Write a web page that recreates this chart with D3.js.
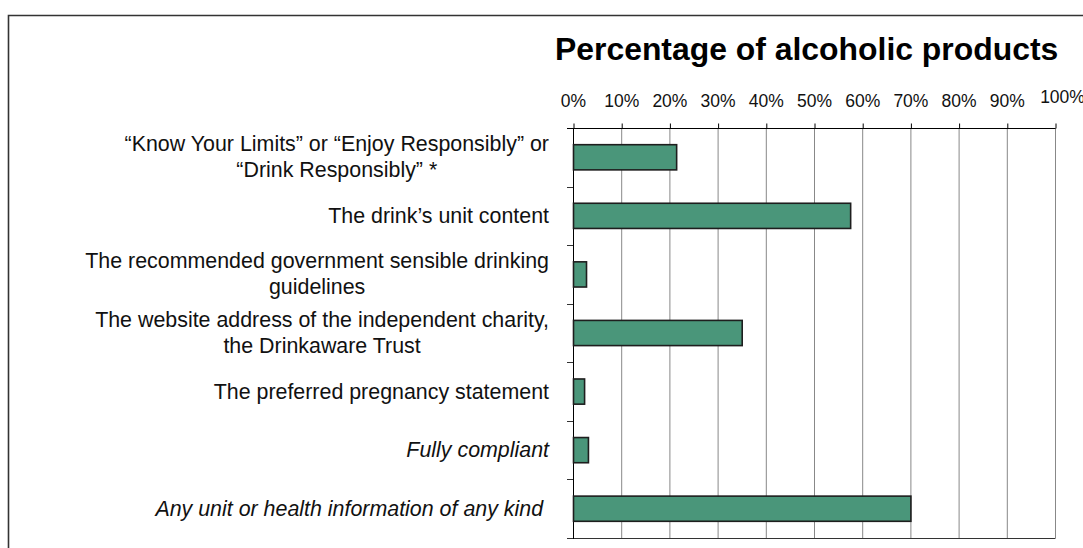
<!DOCTYPE html>
<html>
<head>
<meta charset="utf-8">
<script src="https://cdn.jsdelivr.net/npm/d3@7"></script>
<style>
  body { margin: 0; background: #fff; }
  svg { display: block; font-family: "Liberation Sans", Arial, sans-serif; }
</style>
</head>
<body>
<svg width="1083" height="548"></svg>
<script>
const categories = [
  ["\u201cKnow Your Limits\u201d or \u201cEnjoy Responsibly\u201d or", "\u201cDrink Responsibly\u201d *"],
  ["The drink\u2019s unit content"],
  ["The recommended government sensible drinking", "guidelines"],
  ["The website address of the independent charity,", "the Drinkaware Trust"],
  ["The preferred pregnancy statement"],
  ["Fully compliant"],
  ["Any unit or health information of any kind "]
];
const italic = [false, false, false, false, false, true, true];
const values = [21.4, 57.5, 2.7, 35, 2.3, 3.1, 70];
const ticks = [0, 10, 20, 30, 40, 50, 60, 70, 80, 90, 100];
const title = "Percentage of alcoholic products";

const svg = d3.select("svg");
const plot = {left: 573, right: 1055, top: 128, bottom: 538};

const x = d3.scaleLinear().domain([0, 100]).range([plot.left, plot.right]);
const y = d3.scaleBand()
  .domain(d3.range(categories.length))
  .range([plot.top, plot.bottom])
  .paddingInner(0.57)
  .paddingOuter(0.285);
const band = d3.scaleBand()
  .domain(d3.range(categories.length))
  .range([plot.top, plot.bottom]);

// outer frame
svg.append("path")
  .attr("d", "M8.5,548V15.5H1083")
  .attr("fill", "none")
  .attr("stroke", "#333")
  .attr("stroke-width", 1.6);

svg.append("text")
  .attr("x", 555)
  .attr("y", 60)
  .attr("font-size", 31.9)
  .attr("font-weight", "bold")
  .text(title);

// gridlines
svg.append("g")
  .selectAll("line")
  .data(ticks.slice(1))
  .join("line")
  .attr("x1", d => x(d) + 0.5)
  .attr("x2", d => x(d) + 0.5)
  .attr("y1", plot.top)
  .attr("y2", plot.bottom)
  .attr("stroke", "#888")
  .attr("stroke-width", 1);

// top axis
const axisTop = svg.append("g")
  .attr("transform", `translate(0,${plot.top + 0.5})`)
  .call(d3.axisTop(x).tickValues(ticks).tickSize(5).tickSizeOuter(0).tickFormat(d => d + "%"));
axisTop.select(".domain").remove();
axisTop.selectAll(".tick line").attr("stroke", "#000").attr("transform", "translate(0.5,0)");
axisTop.selectAll(".tick text")
  .attr("font-family", "Liberation Sans, Arial, sans-serif")
  .attr("font-size", 17.5)
  .attr("fill", "#111")
  .attr("y", -22)
  .attr("dy", 0)
  .attr("transform", d => d === 100 ? "translate(7,-4)" : null);
axisTop.append("line")
  .attr("x1", plot.left - 6)
  .attr("x2", plot.right + 0.5)
  .attr("stroke", "#000");

// bottom line
svg.append("line")
  .attr("x1", plot.left - 6)
  .attr("x2", plot.right + 0.5)
  .attr("y1", plot.bottom + 0.5)
  .attr("y2", plot.bottom + 0.5)
  .attr("stroke", "#333");

// left axis with ticks at band boundaries
svg.append("line")
  .attr("x1", plot.left + 0.5)
  .attr("x2", plot.left + 0.5)
  .attr("y1", plot.top)
  .attr("y2", plot.bottom + 1)
  .attr("stroke", "#000");
svg.append("g")
  .selectAll("line")
  .data(d3.range(1, categories.length))
  .join("line")
  .attr("x1", plot.left - 6)
  .attr("x2", plot.left)
  .attr("y1", d => Math.round(band(d)) + 0.5)
  .attr("y2", d => Math.round(band(d)) + 0.5)
  .attr("stroke", "#333");

// bars
svg.append("g")
  .selectAll("rect")
  .data(values)
  .join("rect")
  .attr("x", x(0) + 0.5)
  .attr("y", (d, i) => y(i))
  .attr("width", d => x(d) - x(0))
  .attr("height", y.bandwidth())
  .attr("fill", "#4a967a")
  .attr("stroke", "#1e1e1e")
  .attr("stroke-width", 1.6);

// category labels
const labelRight = 549;
const lineH = 26;
const labels = svg.append("g")
  .selectAll("text")
  .data(categories)
  .join("text")
  .attr("font-size", 21.4)
  .attr("fill", "#111")
  .attr("font-style", (d, i) => italic[i] ? "italic" : "normal")
  .style("white-space", "pre")
  .attr("text-anchor", "middle");

labels.each(function(lines, i) {
  const t = d3.select(this);
  const cy = band(i) + band.bandwidth() / 2;
  const y0 = cy - (lines.length - 1) * lineH / 2 + 7;
  lines.forEach((line, j) => {
    t.append("tspan").attr("y", y0 + j * lineH).text(line);
  });
  let maxW = 0;
  t.selectAll("tspan").each(function() {
    maxW = Math.max(maxW, this.getComputedTextLength());
  });
  t.selectAll("tspan").attr("x", labelRight - maxW / 2);
});
</script>
</body>
</html>
